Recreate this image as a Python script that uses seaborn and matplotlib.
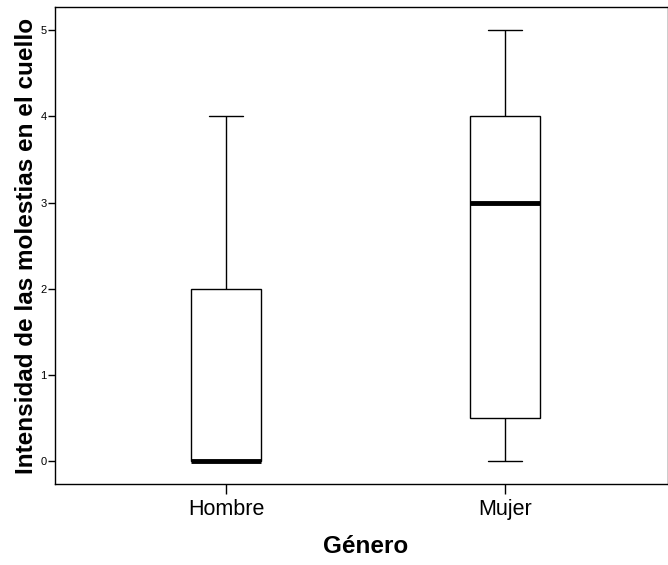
import pandas as pd
import numpy as np
import matplotlib
matplotlib.use('Agg')
import matplotlib.pyplot as plt
import seaborn as sns

hombre_vals = [0, 0, 0, 0, 0, 1, 2, 2, 4]
mujer_vals = [0, 0, 1, 3, 4, 4, 5]
groups = ['Hombre', 'Mujer']
y_ticks = [0, 1, 2, 3, 4, 5]

df = pd.DataFrame({
    'genero': ['Hombre'] * len(hombre_vals) + ['Mujer'] * len(mujer_vals),
    'valor': hombre_vals + mujer_vals,
})

sns.set_style('white')
plt.rcParams['font.family'] = ['Liberation Sans', 'DejaVu Sans']
plt.rcParams['text.color'] = 'black'
plt.rcParams['axes.labelcolor'] = 'black'
plt.rcParams['xtick.color'] = 'black'
plt.rcParams['ytick.color'] = 'black'

fig = plt.figure(figsize=(6.68, 5.65), dpi=100)
ax = fig.add_axes([0.0823, 0.1434, 0.9177, 0.8442])

sns.boxplot(data=df, x='genero', y='valor', order=groups, ax=ax,
            width=0.25, color='white', whis=1.5, showfliers=False,
            linecolor='black', linewidth=1.0,
            medianprops=dict(color='black', linewidth=3.5),
            boxprops=dict(facecolor='white', edgecolor='black'))

ax.set_xlim(-0.613, 1.584)
ax.set_ylim(-0.267, 5.27)
ax.set_yticks(y_ticks)
ax.tick_params(axis='y', which='both', left=True, length=5, width=1,
               labelsize=8, pad=1, direction='out')
ax.tick_params(axis='x', which='both', bottom=True, length=7, width=1,
               labelsize=15.5, pad=4, direction='out')
for s in ax.spines.values():
    s.set_color('black')
    s.set_linewidth(1)

ax.set_xlabel('Género', fontsize=17.5, fontweight='bold')
ax.set_ylabel('Intensidad de las molestias en el cuello', fontsize=17.5,
              fontweight='bold', labelpad=2)
ax.xaxis.set_label_coords(0.507, -0.108)

fig.savefig('out.png', dpi=100)
